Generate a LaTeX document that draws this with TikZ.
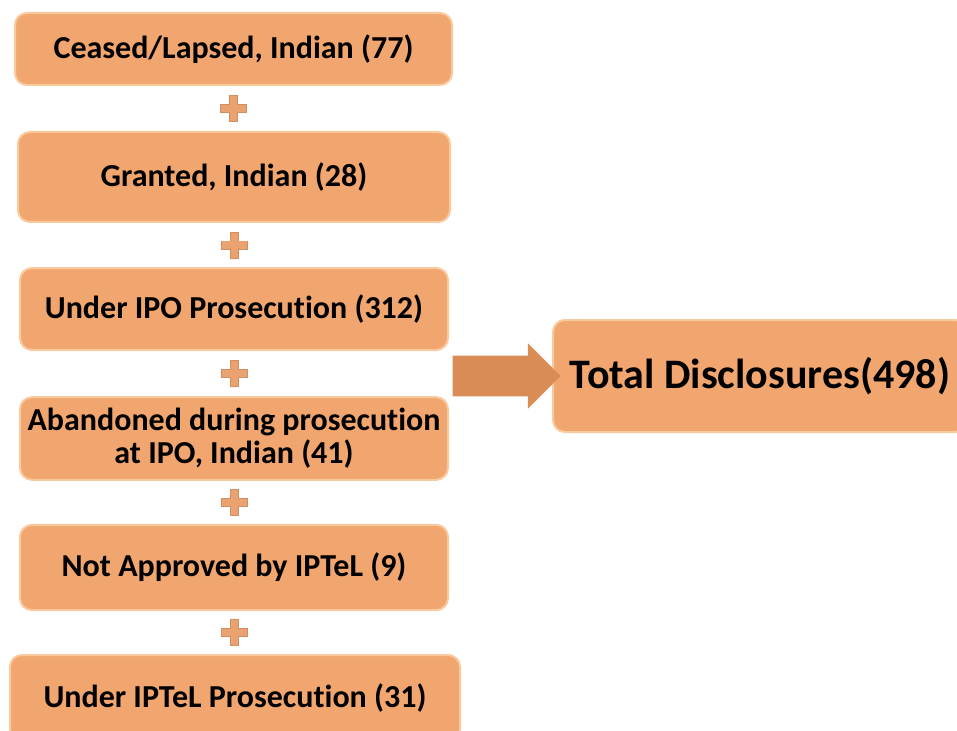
\documentclass[tikz,border=0pt]{standalone}
\usepackage{fontspec}
\setmainfont{Carlito}[Ligatures=NoCommon]
\usetikzlibrary{calc,shapes.arrows}

\definecolor{boxfill}{HTML}{F1A56F}
\definecolor{boxedge}{HTML}{FBC99E}
\definecolor{plusfill}{HTML}{EBA271}
\definecolor{arrowfill}{HTML}{DA8C57}

\begin{document}
\begin{tikzpicture}[x=0.75pt,y=-0.75pt]
\tikzset{stage/.style={draw=boxedge, line width=1.5pt, fill=boxfill, rounded corners=9pt,
    align=center, font=\bfseries\fontsize{24}{25}\selectfont, inner sep=0pt},
  plusarm/.style={fill=plusfill, draw=plusfill!80!black!60!plusfill, line width=0.4pt}}
\clip (0,0) rectangle (957,731);

% the six counts
\node[stage, minimum width=327.75pt, minimum height=54pt] (ceased) at (233.5,49) {Ceased/Lapsed, Indian (77)};
\node[stage, minimum width=324pt, minimum height=67.5pt] (granted) at (234,177) {Granted, Indian (28)};
\node[stage, minimum width=321pt, minimum height=61.5pt] (ipo) at (234,309) {Under IPO Prosecution (312)};
\node[stage, minimum width=321pt, minimum height=62pt] (abandoned) at (234,438.5) {Abandoned during prosecution\\at IPO, Indian (41)};
\node[stage, minimum width=321pt, minimum height=64pt] (notapproved) at (234,567.5) {Not Approved by IPTeL (9)};
\node[stage, minimum width=337.5pt, minimum height=64.5pt] (iptel) at (235,698) {Under IPTeL Prosecution (31)};

% the sum
\node[stage, minimum width=310.5pt, minimum height=84pt, font=\bfseries\fontsize{31.5}{36}\selectfont] (total) at (760,376) {Total Disclosures(498)};

% plus signs between the boxes
\foreach \a/\b in {ceased/granted, granted/ipo, ipo/abandoned, abandoned/notapproved, notapproved/iptel} {
  \coordinate (plus-\a) at ($(\a.south)!.5!(\b.north)$);
  \draw[plusarm] ($(plus-\a)+(-13,-4)$) rectangle ($(plus-\a)+(13,4)$);
  \draw[plusarm] ($(plus-\a)+(-4,-13)$) rectangle ($(plus-\a)+(4,13)$);
  \fill[plusfill] ($(plus-\a)+(-12.5,-3.5)$) rectangle ($(plus-\a)+(12.5,3.5)$);
}

% block arrow into the total
\node[single arrow, fill=arrowfill, inner xsep=0pt, inner ysep=15pt, minimum height=81pt,
  single arrow head extend=9.4pt, single arrow tip angle=90, anchor=tip] (sum) at ($(total.west)+(9,0)$) {};
\end{tikzpicture}
\end{document}
